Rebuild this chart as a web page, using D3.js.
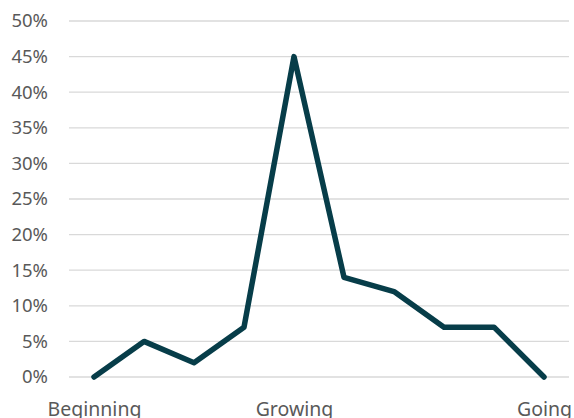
<!DOCTYPE html>
<html>
<head>
<meta charset="utf-8">
<script src="https://cdn.jsdelivr.net/npm/d3@7"></script>
<style>
  body { margin: 0; background: #fff; }
  svg text { font-family: "Noto Sans", sans-serif; fill: #595959; }
</style>
</head>
<body>
<div id="chart"></div>
<script>
// Data
const categories = ["c1", "c2", "c3", "c4", "c5", "c6", "c7", "c8", "c9", "c10"];
const values = [0, 5, 2, 7, 45, 14, 12, 7, 7, 0];
const xLabels = { c1: "Beginning", c5: "Growing", c10: "Going" };
const yTicks = [0, 5, 10, 15, 20, 25, 30, 35, 40, 45, 50];

const width = 574;
const height = 418;
const margin = { top: 21, right: 5, bottom: 41, left: 69 };

const svg = d3.select("#chart")
  .append("svg")
  .attr("width", width)
  .attr("height", height);

const x = d3.scalePoint()
  .domain(categories)
  .range([margin.left, width - margin.right])
  .padding(0.5);

const y = d3.scaleLinear()
  .domain([0, 50])
  .range([height - margin.bottom, margin.top]);

// Gridlines
svg.append("g")
  .selectAll("line")
  .data(yTicks)
  .enter()
  .append("line")
  .attr("x1", margin.left)
  .attr("x2", width - margin.right)
  .attr("y1", (d) => y(d))
  .attr("y2", (d) => y(d))
  .attr("stroke", "#d9d9d9")
  .attr("stroke-width", 1.3);

// Y axis labels
const yAxis = svg.append("g")
  .attr("transform", `translate(${margin.left - 21}, 0)`)
  .call(d3.axisLeft(y).tickValues(yTicks).tickSize(0).tickPadding(0).tickFormat((d) => d + "%"));
yAxis.select(".domain").remove();
yAxis.selectAll("text")
  .attr("font-size", "18.5px")
  .attr("font-family", "'Noto Sans', sans-serif")
  .attr("fill", "#595959");

// X axis labels
const xAxis = svg.append("g")
  .attr("transform", `translate(0, ${height - margin.bottom})`)
  .call(d3.axisBottom(x).tickSize(0).tickPadding(25).tickFormat((d) => xLabels[d] || ""));
xAxis.select(".domain").remove();
xAxis.selectAll("text")
  .attr("font-size", "19.5px")
  .attr("font-family", "'Noto Sans', sans-serif")
  .attr("fill", "#595959");

// Line
const line = d3.line()
  .x((d, i) => x(categories[i]))
  .y((d) => y(d));

svg.append("path")
  .datum(values)
  .attr("d", line)
  .attr("fill", "none")
  .attr("stroke", "#073d49")
  .attr("stroke-width", 5.5)
  .attr("stroke-linejoin", "round")
  .attr("stroke-linecap", "round");
</script>
</body>
</html>
